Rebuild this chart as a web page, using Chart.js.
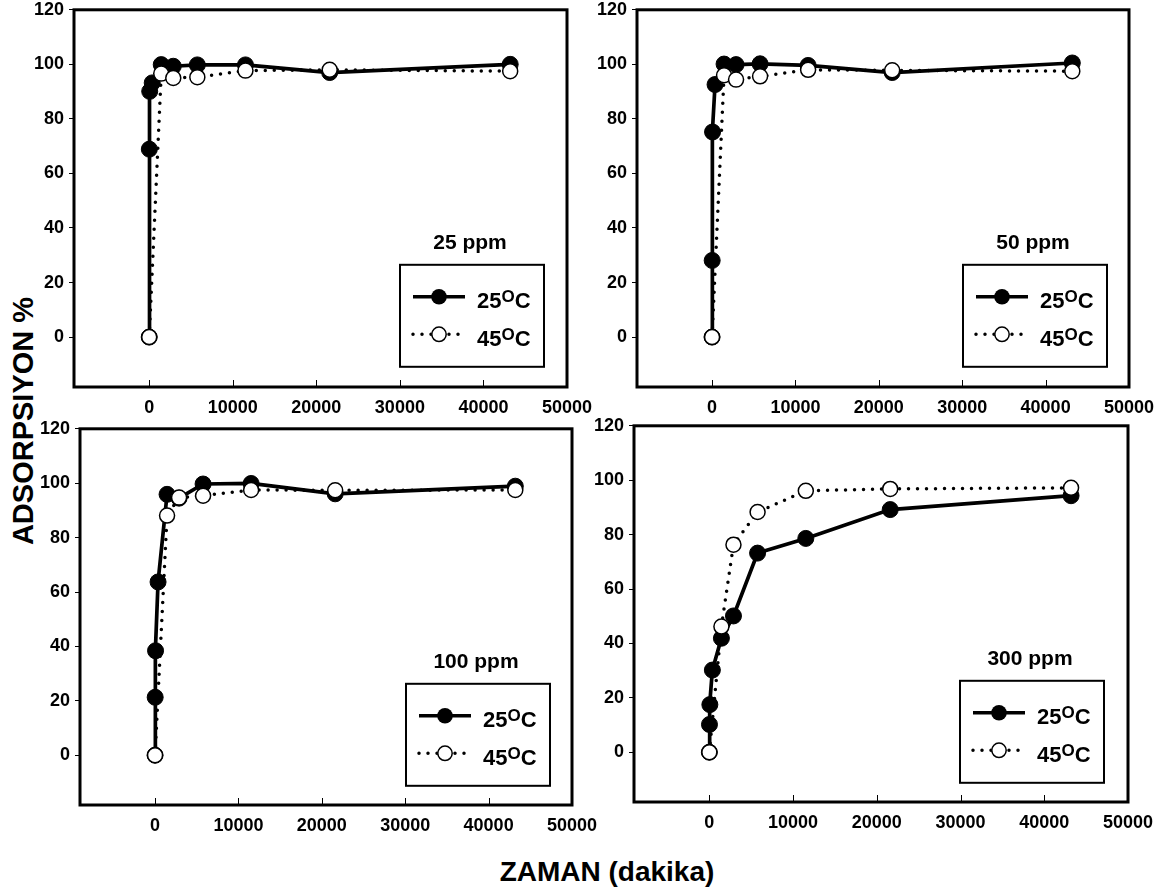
<!DOCTYPE html>
<html>
<head>
<meta charset="utf-8">
<script src="https://cdn.jsdelivr.net/npm/chart.js@4/dist/chart.umd.min.js"></script>
<style>
  html, body { margin: 0; padding: 0; background: #fff; }
  body { width: 1166px; height: 892px; overflow: hidden; position: relative;
         font-family: "Liberation Sans", Arial, sans-serif; }
  canvas { position: absolute; }
  .axis-title { position: absolute; font-weight: bold; color: #000; white-space: nowrap; line-height: 1; }
</style>
</head>
<body>
<div class="axis-title" style="font-size:29px; left:23px; top:421px; transform:translate(-50%,-50%) rotate(-90deg);">ADSORPSIYON %</div>
<div class="axis-title" style="font-size:28px; left:607px; top:858px; transform:translateX(-50%);">ZAMAN (dakika)</div>
<script>
// Sampling times (dakika)
const times25 = [0, 15, 60, 360, 1440, 2880, 5760, 11520, 21600, 43200];
const times45 = [0, 1440, 2880, 5760, 11520, 21600, 43200];

// Axis ticks
const xTickValues = [0, 10000, 20000, 30000, 40000, 50000];
const yTickValues = [0, 20, 40, 60, 80, 100, 120];

// Panel titles and series labels
const panelTitles = ['25 ppm', '50 ppm', '100 ppm', '300 ppm'];
const seriesTemps = ['25', '45'];

// Adsorpsiyon % at 25 °C
const ads25ppm_25C  = [0, 68.9, 90.1, 93.2, 99.9, 99.3, 99.8, 99.8, 97.0, 100.0];
const ads50ppm_25C  = [0, 28.1, 75.2, 92.6, 100.1, 99.9, 100.2, 99.6, 97.0, 100.5];
const ads100ppm_25C = [0, 21.3, 38.4, 63.7, 95.9, 94.5, 99.7, 99.9, 96.1, 98.9];
const ads300ppm_25C = [0, 10.2, 17.5, 30.2, 41.9, 50.1, 73.2, 78.6, 89.2, 94.3];

// Adsorpsiyon % at 45 °C
const ads25ppm_45C  = [0, 96.6, 95.0, 95.3, 97.7, 98.0, 97.5];
const ads50ppm_45C  = [0, 96.0, 94.4, 95.6, 98.0, 97.8, 97.5];
const ads100ppm_45C = [0, 88.1, 94.7, 95.4, 97.5, 97.4, 97.5];
const ads300ppm_45C = [0, 46.2, 76.3, 88.3, 96.1, 96.8, 97.2];

const series25C = [ads25ppm_25C, ads50ppm_25C, ads100ppm_25C, ads300ppm_25C];
const series45C = [ads25ppm_45C, ads50ppm_45C, ads100ppm_45C, ads300ppm_45C];

// Plot-area rectangles on the page (left, top, right, bottom)
const plotBoxes = [
  [74, 8, 567, 387],
  [637, 8, 1129, 387],
  [80, 427, 572, 805],
  [634, 424, 1128, 802]
];

const FONT = '"Liberation Sans", Arial, sans-serif';
Chart.defaults.font.family = FONT;
Chart.defaults.color = '#000';

const Y_AXIS_W = 70, X_AXIS_H = 40, PAD_TOP = 14, PAD_RIGHT = 40;
const TICK_FONT = { size: 18, weight: 'bold' };

function drawDots(ctx, x0, x1, y) {
  ctx.save();
  ctx.setLineDash([0, 9]);
  ctx.lineCap = 'round';
  ctx.lineWidth = 3.5;
  ctx.beginPath(); ctx.moveTo(x0, y); ctx.lineTo(x1, y); ctx.stroke();
  ctx.restore();
}

// Frame, inward x ticks, panel title and the boxed legend
const panelDecor = {
  id: 'panelDecor',
  afterDatasetsDraw(chart, args, opts) {
    const { ctx, chartArea: a } = chart;
    const x = chart.scales.x;
    ctx.save();
    ctx.strokeStyle = '#000';
    ctx.fillStyle = '#000';

    ctx.lineWidth = 1;
    xTickValues.forEach(v => {
      const px = Math.round(x.getPixelForValue(v)) + 0.5;
      ctx.beginPath(); ctx.moveTo(px, a.bottom); ctx.lineTo(px, a.bottom - 7); ctx.stroke();
    });

    ctx.lineWidth = 3;
    ctx.strokeRect(a.left, a.top, a.right - a.left, a.bottom - a.top);

    ctx.font = 'bold 21px ' + FONT;
    ctx.textAlign = 'center';
    ctx.textBaseline = 'middle';
    ctx.fillText(opts.title, a.left + 396, a.top + 233);

    const bx = a.left + 326, by = a.top + 255, bw = 144, bh = 102;
    ctx.fillStyle = '#fff';
    ctx.fillRect(bx, by, bw, bh);
    ctx.fillStyle = '#000';
    ctx.lineWidth = 2;
    ctx.strokeRect(bx, by, bw, bh);

    seriesTemps.forEach((t, i) => {
      const ry = by + 32 + i * 37.5;
      if (i === 0) {
        ctx.lineWidth = 3.5;
        ctx.beginPath(); ctx.moveTo(bx + 13, ry); ctx.lineTo(bx + 65, ry); ctx.stroke();
        ctx.beginPath(); ctx.arc(bx + 39, ry, 7.8, 0, Math.PI * 2); ctx.fill();
      } else {
        drawDots(ctx, bx + 13, bx + 59, ry);
        ctx.beginPath(); ctx.arc(bx + 39, ry, 7.2, 0, Math.PI * 2);
        ctx.fillStyle = '#fff'; ctx.fill();
        ctx.lineWidth = 1.5; ctx.stroke();
        ctx.fillStyle = '#000';
      }
      const base = by + 43.5 + i * 37.5;
      let tx = bx + 77;
      ctx.textAlign = 'left';
      ctx.textBaseline = 'alphabetic';
      ctx.font = 'bold 22px ' + FONT;
      ctx.fillText(t, tx, base);
      tx += ctx.measureText(t).width;
      ctx.font = 'bold 17px ' + FONT;
      ctx.fillText('O', tx, base - 6);
      tx += ctx.measureText('O').width;
      ctx.font = 'bold 22px ' + FONT;
      ctx.fillText('C', tx, base);
    });
    ctx.restore();
  }
};

plotBoxes.forEach((box, k) => {
  const [L, T, R, B] = box;
  const canvas = document.createElement('canvas');
  const w = R - L + Y_AXIS_W + PAD_RIGHT;
  const h = B - T + PAD_TOP + X_AXIS_H;
  canvas.width = w; canvas.height = h;
  canvas.style.left = (L - Y_AXIS_W) + 'px';
  canvas.style.top = (T - PAD_TOP) + 'px';
  canvas.style.width = w + 'px';
  canvas.style.height = h + 'px';
  document.body.appendChild(canvas);

  new Chart(canvas, {
    type: 'line',
    data: {
      datasets: [
        {
          label: seriesTemps[0] + '°C',
          data: times25.map((t, i) => ({ x: t, y: series25C[k][i] })),
          borderColor: '#000',
          borderWidth: 3.7,
          tension: 0,
          fill: false,
          pointRadius: 8,
          pointBackgroundColor: '#000',
          pointBorderColor: '#000',
          pointBorderWidth: 1,
          order: 2
        },
        {
          label: seriesTemps[1] + '°C',
          data: times45.map((t, i) => ({ x: t, y: series45C[k][i] })),
          borderColor: '#000',
          borderWidth: 3.5,
          borderDash: [0, 9],
          borderCapStyle: 'round',
          tension: 0,
          fill: false,
          pointRadius: 7.5,
          pointBackgroundColor: '#fff',
          pointBorderColor: '#000',
          pointBorderWidth: 1.5,
          order: 1
        }
      ]
    },
    options: {
      responsive: false,
      animation: false,
      events: [],
      devicePixelRatio: 1,
      layout: { padding: { left: 0, top: PAD_TOP, right: PAD_RIGHT, bottom: 0 } },
      plugins: {
        legend: { display: false },
        tooltip: { enabled: false },
        panelDecor: { title: panelTitles[k] }
      },
      scales: {
        x: {
          type: 'linear',
          min: -9000,
          max: 50000,
          afterBuildTicks: s => { s.ticks = xTickValues.map(v => ({ value: v })); },
          afterFit: s => { s.height = X_AXIS_H; },
          ticks: { callback: v => String(v), font: TICK_FONT, color: '#000',
                   padding: 10, maxRotation: 0, autoSkip: false },
          grid: { display: false, drawTicks: false },
          border: { display: false }
        },
        y: {
          type: 'linear',
          min: -18.3,
          max: 120,
          afterBuildTicks: s => { s.ticks = yTickValues.map(v => ({ value: v })); },
          afterFit: s => { s.width = Y_AXIS_W; },
          ticks: { callback: v => String(v), font: TICK_FONT, color: '#000', padding: 5 },
          grid: { display: true, drawOnChartArea: false, drawTicks: true, tickLength: 5,
                  color: '#000', lineWidth: 1 },
          border: { display: false }
        }
      }
    },
    plugins: [panelDecor]
  });
});
</script>
</body>
</html>
